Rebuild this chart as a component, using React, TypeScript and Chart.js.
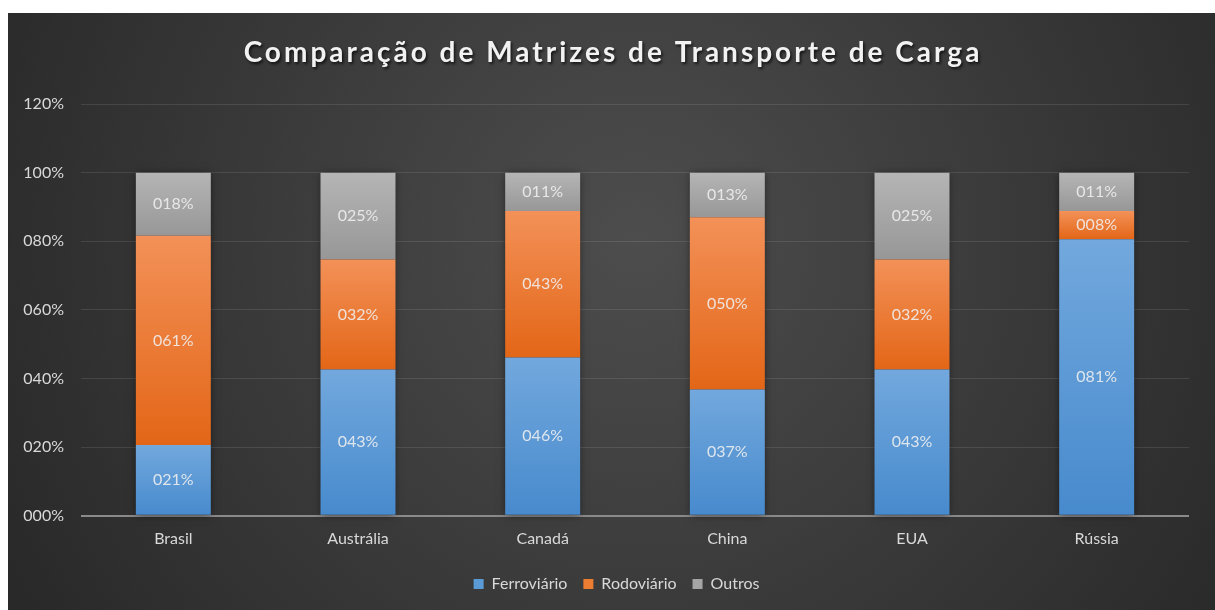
import React, { useEffect, useRef } from "react";
import { Chart, registerables } from "chart.js";

Chart.register(...registerables);

const chartTitle = "Comparação de Matrizes de Transporte de Carga";
const categories = ["Brasil", "Austrália", "Canadá", "China", "EUA", "Rússia"];
const seriesNames = ["Ferroviário", "Rodoviário", "Outros"];
const ferroviario = [0.206, 0.426, 0.461, 0.368, 0.426, 0.806];
const rodoviario = [0.61, 0.321, 0.427, 0.502, 0.321, 0.082];
const outros = [0.184, 0.253, 0.112, 0.13, 0.253, 0.112];
const yMax = 1.2;
const yStep = 0.2;

const allSeries = [ferroviario, rodoviario, outros];
const gradTop = ["#72a8dd", "#f39158", "#b5b5b5"];
const gradBottom = ["#478acd", "#e36617", "#979797"];
const solid = ["#5b9bd5", "#ed7d31", "#a5a5a5"];

const FONT = "Lato, 'Open Sans', sans-serif";

const fmtPct = (v: number) => String(Math.round(v * 100)).padStart(3, "0") + "%";

const makeBg = (ds: number) => (ctx: any) => {
  const chart = ctx.chart;
  const y = chart.scales && chart.scales.y;
  if (!chart.chartArea || !y || ctx.type !== "data") return solid[ds];
  const i = ctx.dataIndex;
  let start = 0;
  for (let d = 0; d < ds; d++) start += allSeries[d][i];
  const end = start + allSeries[ds][i];
  const p0 = y.getPixelForValue(end);
  const p1 = y.getPixelForValue(start);
  if (!isFinite(p0) || !isFinite(p1) || p0 === p1) return solid[ds];
  const g = chart.ctx.createLinearGradient(0, p0, 0, p1);
  g.addColorStop(0, gradTop[ds]);
  g.addColorStop(1, gradBottom[ds]);
  return g;
};

const bgPlugin = {
  id: "bgPlugin",
  afterLayout(chart: any) {
    if (chart.legend) {
      chart.legend.left += 18;
      chart.legend.right += 18;
    }
  },
  beforeDraw(chart: any) {
    const { ctx, width, height } = chart;
    ctx.save();
    const g = ctx.createRadialGradient(width * 0.52, height * 0.38, 0, width * 0.52, height * 0.38, width * 0.62);
    g.addColorStop(0, "#4d4d4d");
    g.addColorStop(1, "#272727");
    ctx.fillStyle = g;
    ctx.fillRect(0, 0, width, height);
    // title
    ctx.font = `bold 28px ${FONT}`;
    (ctx as any).letterSpacing = "3px";
    ctx.textAlign = "center";
    ctx.textBaseline = "alphabetic";
    ctx.shadowColor = "rgba(0,0,0,0.7)";
    ctx.shadowBlur = 3;
    ctx.shadowOffsetX = 1.5;
    ctx.shadowOffsetY = 2;
    ctx.fillStyle = "#f2f2f2";
    ctx.fillText(chartTitle, width / 2 + 1.5, 49);
    ctx.restore();
  },
};

const shadowPlugin = {
  id: "shadowPlugin",
  beforeDatasetsDraw(chart: any) {
    const { ctx } = chart;
    const y = chart.scales.y;
    const meta = chart.getDatasetMeta(0);
    ctx.save();
    ctx.shadowColor = "rgba(0,0,0,0.55)";
    ctx.shadowBlur = 8;
    ctx.fillStyle = "#2a2a2a";
    meta.data.forEach((bar: any, i: number) => {
      let total = 0;
      allSeries.forEach((s) => (total += s[i]));
      const top = y.getPixelForValue(total);
      const bottom = y.getPixelForValue(0);
      ctx.fillRect(bar.x - bar.width / 2 + 1, top + 1, bar.width - 2, bottom - top - 2);
    });
    ctx.restore();
  },
};

const labelPlugin = {
  id: "labelPlugin",
  afterDatasetsDraw(chart: any) {
    const { ctx } = chart;
    ctx.save();
    ctx.font = `16px ${FONT}`;
    ctx.textAlign = "center";
    ctx.textBaseline = "middle";
    ctx.fillStyle = "rgba(240,240,240,0.88)";
    chart.data.datasets.forEach((ds: any, di: number) => {
      const meta = chart.getDatasetMeta(di);
      meta.data.forEach((bar: any, i: number) => {
        const p = bar.getProps(["x", "y", "base"], true);
        ctx.fillText(fmtPct(ds.data[i]), p.x, (p.y + p.base) / 2);
      });
    });
    ctx.restore();
  },
};

export default function App() {
  const ref = useRef<HTMLCanvasElement | null>(null);

  useEffect(() => {
    if (!ref.current) return;
    const chart = new Chart(ref.current, {
      type: "bar",
      data: {
        labels: categories,
        datasets: allSeries.map((s, di) => ({
          label: seriesNames[di],
          data: s,
          backgroundColor: makeBg(di),
          borderWidth: 0,
          barPercentage: 0.406,
          categoryPercentage: 1,
        })),
      },
      options: {
        animation: false,
        responsive: true,
        maintainAspectRatio: false,
        layout: { padding: { top: 91, right: 26, bottom: 8, left: 0 } },
        plugins: {
          title: { display: false },
          tooltip: { enabled: false },
          legend: {
            position: "bottom",
            labels: {
              color: "#d9d9d9",
              font: { family: FONT, size: 16 },
              boxWidth: 10,
              boxHeight: 10,
              padding: 16,
              generateLabels: () =>
                seriesNames.map((n, i) => ({
                  text: n,
                  fillStyle: solid[i],
                  strokeStyle: solid[i],
                  lineWidth: 0,
                  fontColor: "#d9d9d9",
                  hidden: false,
                  datasetIndex: i,
                })),
            },
          },
        },
        scales: {
          x: {
            stacked: true,
            grid: { display: false },
            border: { display: false },
            ticks: { color: "#d9d9d9", font: { family: FONT, size: 16 }, padding: 5 },
            afterFit: (scale: any) => {
              scale.height += 7;
            },
          },
          y: {
            stacked: true,
            min: 0,
            max: yMax,
            border: { display: false },
            grid: {
              drawTicks: false,
              color: (c: any) => (c.tick && c.tick.value === 0 ? "#8a8a8a" : "rgba(255,255,255,0.1)"),
              lineWidth: (c: any) => (c.tick && c.tick.value === 0 ? 2 : 1),
            },
            ticks: {
              stepSize: yStep,
              color: "#d9d9d9",
              font: { family: FONT, size: 16 },
              padding: 17,
              callback: (v: any) => fmtPct(Number(v)),
            },
            afterFit: (scale: any) => {
              scale.width = 73;
            },
          },
        },
      },
      plugins: [bgPlugin, shadowPlugin, labelPlugin],
    });
    return () => chart.destroy();
  }, []);

  return (
    <div style={{ position: "absolute", left: 8, top: 13, width: 1207, height: 597 }}>
      <canvas ref={ref} />
    </div>
  );
}
